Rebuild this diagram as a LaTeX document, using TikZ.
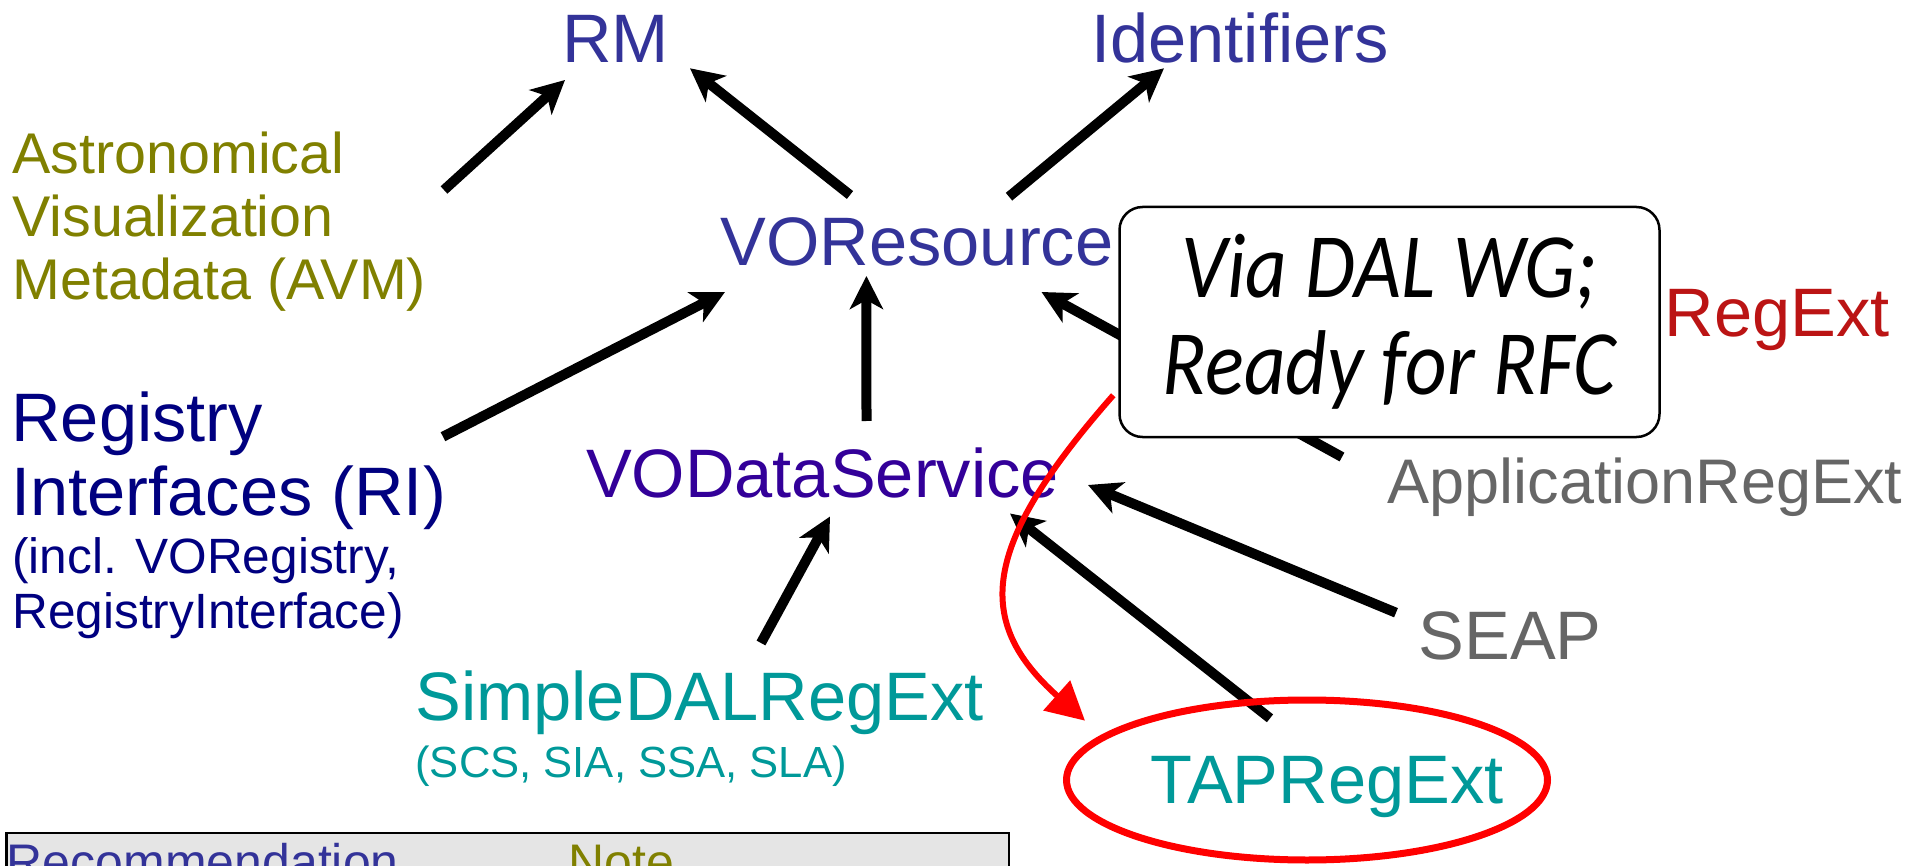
\documentclass[tikz,border=0pt]{standalone}
\usepackage{fontspec}
\setmainfont{Liberation Sans}
\newfontfamily\notefont[FakeStretch=0.88]{Carlito}
\usetikzlibrary{arrows.meta,calc,shapes.geometric}
\definecolor{rmblue}{RGB}{51,51,153}
\definecolor{dsblue}{RGB}{51,0,153}
\definecolor{riblue}{RGB}{0,0,128}
\definecolor{avmolive}{RGB}{128,128,0}
\definecolor{extteal}{RGB}{0,153,153}
\definecolor{extgray}{RGB}{102,102,102}
\definecolor{extred}{RGB}{187,20,20}
\begin{document}
\begin{tikzpicture}[x=0.5pt,y=0.5pt,yscale=-1,
  lbl/.style={inner sep=0pt,anchor=base,font=\fontsize{34.3}{41}\selectfont},
  arr/.style={line width=5pt,-{Stealth[length=16.5pt,width=16.5pt,inset=4.5pt]}},
  redarr/.style={draw=red,line width=3pt,-{Triangle[length=19pt,width=19.5pt]}},
  notebox/.style={draw,line width=1.25pt,fill=white,rounded corners=11.5pt,minimum width=270pt,minimum height=115pt,inner sep=0pt,align=center,font=\notefont\itshape\fontsize{46}{48.5}\selectfont}]
\useasboundingbox (0,0) rectangle (1929,866);
\clip (0,0) rectangle (1929,866);
% specs
\node[lbl,text=rmblue] (rm) at (615.5,62.3) {RM};
\node[lbl,text=rmblue] (ident) at (1240,62.3) {Identifiers};
\node[lbl,text=rmblue] (vor) at (917,265.7) {VOResource};
\node[lbl,text=dsblue] (vods) at (822.5,497.5) {VODataService};
\node[lbl,text=extred] (regext) at (1777,336.7) {RegExt};
\node[lbl,text=extgray,font=\fontsize{31.5}{38}\selectfont] (appregext) at (1645,503) {ApplicationRegExt};
\node[lbl,text=extgray] (seap) at (1510,659.3) {SEAP};
\node[lbl,text=extteal,anchor=base west] (sdal) at (415,720.7) {SimpleDALRegExt};
\node[lbl,text=extteal,anchor=base west,font=\fontsize{21.8}{26}\selectfont] (sdalsub) at (415,777) {(SCS, SIA, SSA, SLA)};
\node[lbl,text=extteal] (tap) at (1327,803.3) {TAPRegExt};
\node[lbl,text=avmolive,anchor=base west,align=left,font=\fontsize{28.7}{31.65}\selectfont] (avm) at (12,300) {Astronomical\\Visualization\\Metadata (AVM)};
\node[lbl,text=riblue,anchor=base west,align=left,font=\fontsize{34.3}{36.65}\selectfont] (ri) at (11,515) {Registry\\Interfaces (RI)};
\node[lbl,text=riblue,anchor=base west,align=left,font=\fontsize{24.8}{27.5}\selectfont] (riincl) at (12,628.3) {(incl. VORegistry,\\RegistryInterface)};
% dependencies
\draw[arr] ($(avm.base west)+(432,-110)$) -- ($(rm.base)+(-50.5,17.7)$);
\draw[arr] ($(vor.base)+(-67,-70.7)$) -- ($(rm.base)+(74.5,6)$);
\draw[arr] ($(vor.base)+(92,-69)$) -- ($(ident.base)+(-76,6)$);
\draw[arr] ($(ri.base west)+(432,-78.3)$) -- ($(vor.base)+(-192,26.3)$);
\draw[arr] ($(vods.base)+(44,-76.5)$) -- ($(vor.base)+(-50.6,10.3)$);
\draw[arr] ($(appregext.base)+(-303,-46)$) -- ($(vor.base)+(124.5,26.3)$);
\draw[arr] ($(sdal.base west)+(346,-77.7)$) -- ($(vods.base)+(7.5,19)$);
\draw[arr] ($(seap.base)+(-114,-46.6)$) -- ($(vods.base)+(265.5,-12.5)$);
\draw[arr] ($(tap.base)+(-57,-85)$) -- ($(vods.base)+(187.5,16)$);
% status note
\node[notebox] (dal) at (1389.5,322) {Via DAL WG;\\Ready for RFC};
\node[draw=red,line width=3.5pt,ellipse,minimum width=240.5pt,minimum height=80pt,inner sep=0pt] (tapring) at (1307,780) {};
\draw[redarr] ($(dal.south west)+(-5,-43)$) .. controls +(-132,150) and +(-112,-100) .. ($(tapring.center)+(-222,-59.3)$);
% legend
\node[draw,line width=1.25pt,fill=black!10,anchor=north west,minimum width=501.25pt,minimum height=40pt,inner sep=0pt] (legend) at (5,831.5) {};
\node[lbl,text=rmblue,anchor=base west,font=\fontsize{25}{30}\selectfont] (rec) at (6.5,879) {Recommendation};
\node[lbl,text=avmolive,anchor=base west,font=\fontsize{25}{30}\selectfont] (note) at (568,879) {Note};
\end{tikzpicture}
\end{document}
